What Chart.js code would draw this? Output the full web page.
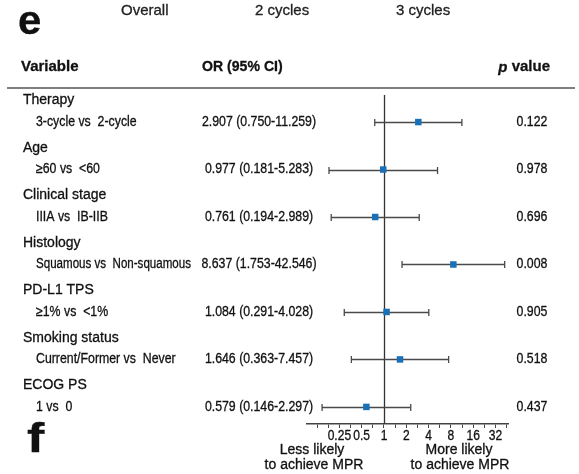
<!DOCTYPE html>
<html>
<head>
<meta charset="utf-8">
<script src="https://cdn.jsdelivr.net/npm/chart.js@4.4.1/dist/chart.umd.min.js"></script>
<style>
  body { margin: 0; background: #ffffff; }
  #wrap { width: 579px; height: 474px; }
</style>
</head>
<body>
<div id="wrap"><canvas id="forest" width="579" height="474"></canvas></div>
<script>
// values
const groups      = ['Therapy', 'Age', 'Clinical stage', 'Histology', 'PD-L1 TPS', 'Smoking status', 'ECOG PS'];
const comparisons = ['3-cycle vs  2-cycle', '\u226560 vs  <60', 'IIIA vs  IB-IIB', 'Squamous vs  Non-squamous',
                     '\u22651% vs  <1%', 'Current/Former vs  Never', '1 vs  0'];
const oddsRatios  = [2.907, 0.977, 0.761, 8.637, 1.084, 1.646, 0.579];
const ciLower     = [0.750, 0.181, 0.194, 1.753, 0.291, 0.363, 0.146];
const ciUpper     = [11.259, 5.283, 2.989, 42.546, 4.028, 7.457, 2.297];
const pValues     = ['0.122', '0.978', '0.696', '0.008', '0.905', '0.518', '0.437'];
const axisLabels  = [0.25, 0.5, 1, 2, 4, 8, 16, 32];
const topTabs     = ['Overall', '2 cycles', '3 cycles'];

const FONT      = '"Liberation Sans", Arial, Helvetica, sans-serif';
const INK       = '#111111';
const BAR_INK   = '#4a4a4a';
const BOX_COLOR = '#1a70b6';
const SQUEEZE   = 0.88;

var drawText = function drawText(ctx, text, x, y, font, align, squeeze, color, maxWidth) {
   ctx.save();
   ctx.font         = font;
   ctx.fillStyle    = color || INK;
   ctx.strokeStyle  = color || INK;
   ctx.lineWidth    = 0.3;
   ctx.textAlign    = align;
   ctx.textBaseline = 'middle';
   ctx.translate(x, y);
   ctx.scale(squeeze, 1);
   if (maxWidth) {
      ctx.fillText(text, 0, 0, maxWidth / squeeze);
      ctx.strokeText(text, 0, 0, maxWidth / squeeze);
   } else {
      ctx.fillText(text, 0, 0);
      ctx.strokeText(text, 0, 0);
   }
   ctx.restore();
};

var formatOr = function formatOr(i) {
   return oddsRatios[i].toFixed(3) + ' (' + ciLower[i].toFixed(3) + '-' + ciUpper[i].toFixed(3) + ')';
};

// half-doubling tick marks; labels are put on the whole doublings afterwards
var buildTicks = function buildTicks(scale) {
   var ticks = [];
   for (var k = -8; k <= 12; k++) {
      var v = Math.pow(2, k / 2);
      if (v >= scale.min && v <= scale.max) {
         ticks.push({ value: v });
      }
   }
   scale.ticks = ticks;
};

const forestPlugin = {
   id: 'forest',
   beforeDatasetsDraw(chart) {
      const ctx  = chart.ctx;
      const xs   = chart.scales.x;
      const ys   = chart.scales.y;
      const area = chart.chartArea;
      const x1   = Math.round(xs.getPixelForValue(1)) + 0.5;

      // line of no effect
      ctx.save();
      ctx.strokeStyle = '#333333';
      ctx.lineWidth   = 1.3;
      ctx.beginPath();
      ctx.moveTo(x1, area.top);
      ctx.lineTo(x1, area.bottom);
      ctx.stroke();

      // confidence intervals
      ctx.strokeStyle = BAR_INK;
      ctx.lineWidth   = 1.3;
      oddsRatios.forEach((or, i) => {
         const y  = Math.round(ys.getPixelForValue(i)) + 0.5;
         const lo = xs.getPixelForValue(ciLower[i]);
         const hi = xs.getPixelForValue(ciUpper[i]);
         ctx.beginPath();
         ctx.moveTo(lo, y); ctx.lineTo(hi, y);
         ctx.moveTo(lo, y - 3.5); ctx.lineTo(lo, y + 3.5);
         ctx.moveTo(hi, y - 3.5); ctx.lineTo(hi, y + 3.5);
         ctx.stroke();
      });
      ctx.restore();
   },
   afterDraw(chart) {
      const ctx  = chart.ctx;
      const xs   = chart.scales.x;
      const ys   = chart.scales.y;
      const area = chart.chartArea;

      // panel letters and the tab row
      drawText(ctx, 'e', 18, 23, 'bold 40px ' + FONT, 'left', 1.05);
      drawText(ctx, 'f', 27, 441, 'bold 40px ' + FONT, 'left', 1.3);
      [121, 255, 396].forEach((x, i) => drawText(ctx, topTabs[i], x, 11, '15px ' + FONT, 'left', 1, '#222222'));

      // column headers
      drawText(ctx, 'Variable', 21, 67, 'bold 15px ' + FONT, 'left', 1);
      drawText(ctx, 'OR (95% CI)', 202, 67, 'bold 15px ' + FONT, 'left', 0.94);
      ctx.save();
      ctx.font = 'bold 15px ' + FONT;
      const valueWidth = ctx.measureText(' value').width;
      ctx.restore();
      drawText(ctx, ' value', 550, 67, 'bold 15px ' + FONT, 'right', 1);
      drawText(ctx, 'p', 550 - valueWidth, 68, 'italic bold 15px ' + FONT, 'right', 1);

      ctx.save();
      ctx.strokeStyle = '#555555';
      ctx.lineWidth   = 1.6;
      ctx.beginPath();
      ctx.moveTo(7, 88);
      ctx.lineTo(575, 88);
      ctx.stroke();
      ctx.restore();

      // rows
      groups.forEach((g, i) => {
         const yRow = ys.getPixelForValue(i);
         drawText(ctx, g, 23, ys.getPixelForValue(i - 0.455), '14px ' + FONT, 'left', 1);
         drawText(ctx, comparisons[i], 36, yRow, '14px ' + FONT, 'left', SQUEEZE, INK, 155);
         drawText(ctx, formatOr(i), 259, yRow, '14px ' + FONT, 'center', SQUEEZE);
         drawText(ctx, pValues[i], 532, yRow, '14px ' + FONT, 'center', SQUEEZE);
      });

      // log2 axis labels, placed by the x scale
      axisLabels.forEach(v => {
         drawText(ctx, String(v), xs.getPixelForValue(v), area.bottom + 12, '14px ' + FONT, 'center', 0.86);
      });

      // direction captions
      drawText(ctx, 'Less likely', 312, 450, '14px ' + FONT, 'center', 1);
      drawText(ctx, 'to achieve MPR', 314, 465, '14px ' + FONT, 'center', 1);
      drawText(ctx, 'More likely', 459, 450, '14px ' + FONT, 'center', 1);
      drawText(ctx, 'to achieve MPR', 460, 465, '14px ' + FONT, 'center', 1);
   }
};

new Chart(document.getElementById('forest'), {
   type: 'scatter',
   data: {
      datasets: [{
         data: oddsRatios.map((v, i) => ({ x: v, y: i })),
         pointStyle: 'rect',
         pointRadius: 4.6,
         pointBorderWidth: 0,
         backgroundColor: BOX_COLOR,
         borderColor: BOX_COLOR
      }]
   },
   options: {
      responsive: false,
      animation: false,
      events: [],
      layout: { padding: { left: 307, right: 71, top: 95, bottom: 30 } },
      scales: {
         x: {
            type: 'logarithmic',
            min: 0.0914,
            max: 47.2,
            afterBuildTicks: buildTicks,
            afterFit: scale => { scale.height = 20; },
            grid: {
               display: true,
               drawOnChartArea: false,
               drawTicks: true,
               tickLength: 4,
               color: '#444444',
               lineWidth: 1
            },
            border: { display: true, color: '#444444', width: 1.5 },
            ticks: { display: false, autoSkip: false }
         },
         y: {
            type: 'linear',
            min: -0.57,
            max: 6.36,
            reverse: true,
            display: false
         }
      },
      plugins: {
         legend: { display: false },
         tooltip: { enabled: false }
      }
   },
   plugins: [forestPlugin]
});
</script>
</body>
</html>
